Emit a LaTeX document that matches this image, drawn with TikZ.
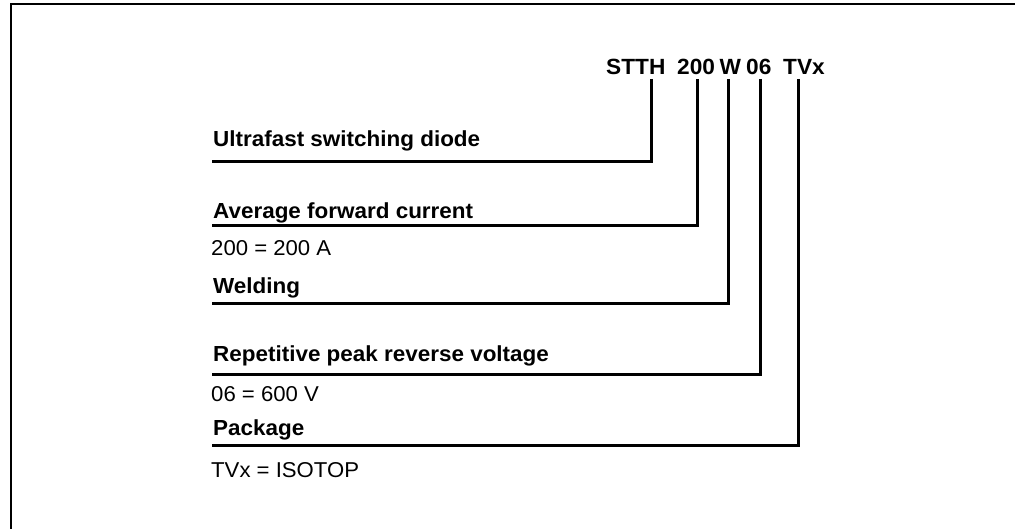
\documentclass[tikz,border=0pt]{standalone}
\usepackage{fontspec}
\setmainfont{Liberation Sans}[FakeStretch=1.03]
\begin{document}
\begin{tikzpicture}[x=1pt,y=-1pt,
  code/.style={inner sep=0pt,anchor=base west,font=\fontsize{22}{26}\selectfont\bfseries},
  lab/.style={inner sep=0pt,anchor=base west,font=\fontsize{21.8}{25}\selectfont\bfseries},
  val/.style={inner sep=0pt,anchor=base west,font=\fontsize{21.5}{25}\selectfont},
  lead/.style={line width=3pt,line cap=butt,line join=miter},
  frame/.style={line width=2pt}]
\useasboundingbox (0,0) rectangle (1015,529);
% frame (only top and left edges visible)
\coordinate (fbl) at (11,529);
\coordinate (ftl) at (11,4);
\coordinate (ftr) at (1015,4);
\draw[frame] (fbl) -- (ftl) -- (ftr);
% part number
\node[code] (p1) at (606,75) {STTH};
\node[code] (p2) at (677,75) {200};
\node[code] (p3) at (719.5,75) {W};
\node[code] (p4) at (746,75) {06};
\node[code] (p5) at (783,75) {TVx};
% lead tops
\coordinate (t1) at (651,79);
\coordinate (t2) at (697,79);
\coordinate (t3) at (728,79);
\coordinate (t4) at (760,79);
\coordinate (t5) at (798,79);
% lead ends (left end of underline)
\coordinate (e1) at (212,161.7);
\coordinate (e2) at (212,226);
\coordinate (e3) at (212,304);
\coordinate (e4) at (212,374.3);
\coordinate (e5) at (212,445);
% labels
\node[lab] (l1) at (213,147) {Ultrafast switching diode};
\node[lab] (l2) at (213,218.3) {Average forward current};
\node[val] (v2) at (211,256) {200 = 200 A};
\node[lab] (l3) at (213,293.3) {Welding};
\node[lab] (l4) at (213,361.7) {Repetitive peak reverse voltage};
\node[val] (v4) at (211,401) {06 = 600 V};
\node[lab] (l5) at (213,435.5) {Package};
\node[val] (v5) at (211,477.3) {TVx = ISOTOP};
% leads
\draw[lead] (t1) |- (e1);
\draw[lead] (t2) |- (e2);
\draw[lead] (t3) |- (e3);
\draw[lead] (t4) |- (e4);
\draw[lead] (t5) |- (e5);
\end{tikzpicture}
\end{document}
